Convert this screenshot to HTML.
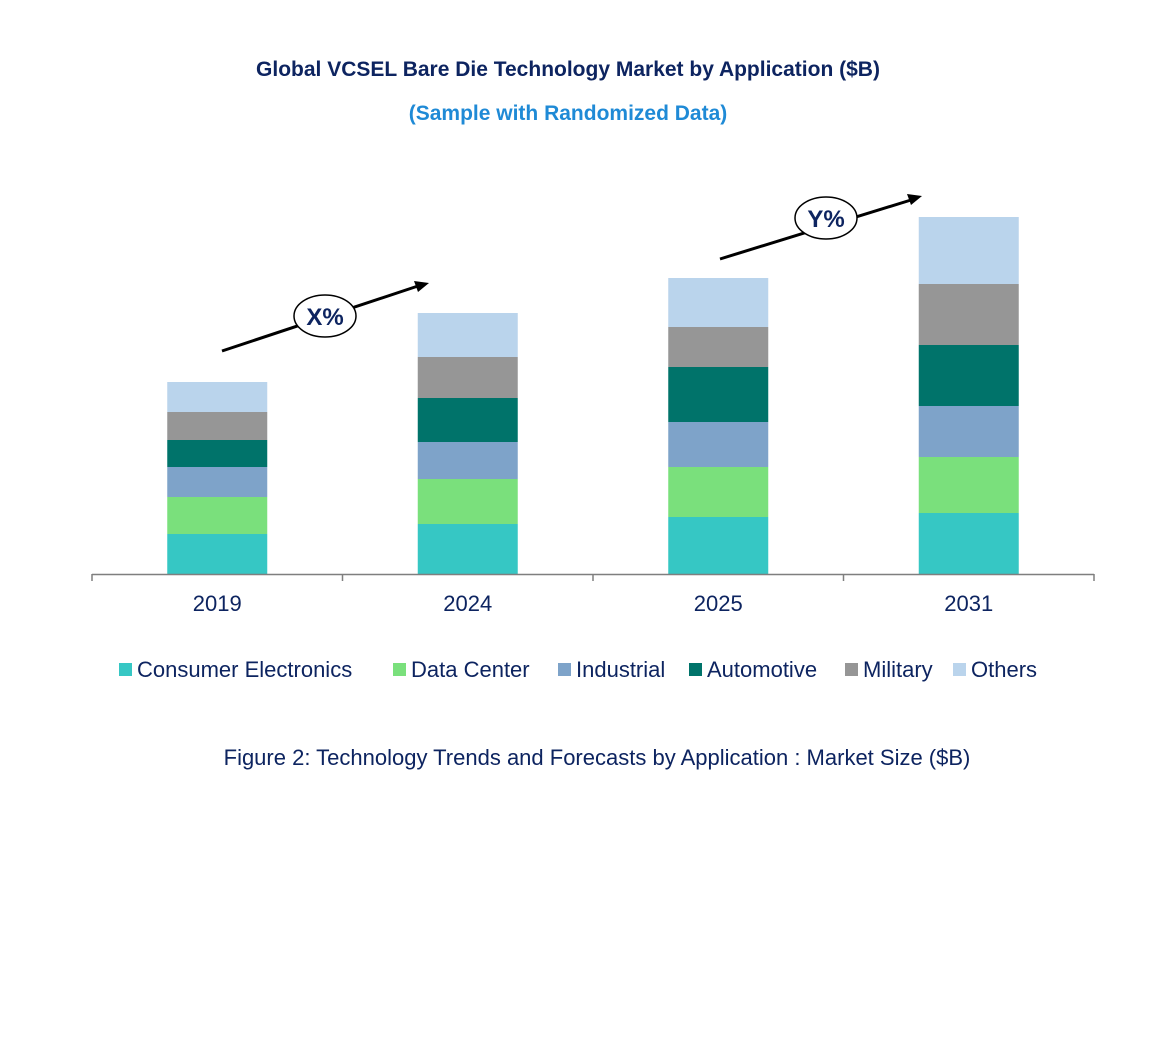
<!DOCTYPE html>
<html><head><meta charset="utf-8"><style>
body{margin:0;background:#fff;}
svg text{font-family:"Liberation Sans",Arial,sans-serif;}
</style></head><body>
<svg width="1158" height="1051" viewBox="0 0 1158 1051">
<text x="568" y="76" text-anchor="middle" font-size="21" font-weight="bold" fill="#0d2460">Global VCSEL Bare Die Technology Market by Application ($B)</text>
<text x="568" y="120" text-anchor="middle" font-size="21" font-weight="bold" fill="#1f8ad6">(Sample with Randomized Data)</text>
<g id="bars"></g>
<g id="axis"></g>
<g>
<line x1="222" y1="351" x2="418" y2="286" stroke="#000" stroke-width="3"/>
<polygon points="429,283 414,281 418,292" fill="#000"/>
<ellipse cx="325" cy="316" rx="31" ry="21" fill="#fff" stroke="#000" stroke-width="1.5"/>
<text x="325" y="325" text-anchor="middle" font-size="24" font-weight="bold" fill="#0d2460">X%</text>
</g>
<g>
<line x1="720" y1="259" x2="911" y2="200" stroke="#000" stroke-width="3"/>
<polygon points="922,196 907,194 911,205" fill="#000"/>
<ellipse cx="826" cy="218" rx="31" ry="21" fill="#fff" stroke="#000" stroke-width="1.5"/>
<text x="826" y="227" text-anchor="middle" font-size="24" font-weight="bold" fill="#0d2460">Y%</text>
</g>
<g id="legend"></g>
<text x="597" y="765" text-anchor="middle" font-size="22" fill="#0d2460">Figure 2: Technology Trends and Forecasts by Application : Market Size ($B)</text>
</svg>
<script>
const categories = ["2019","2024","2025","2031"];
const seriesNames = ["Consumer Electronics","Data Center","Industrial","Automotive","Military","Others"];
const consumerElectronics = [4.0,5.0,5.7,6.1];
const dataCenter = [3.7,4.5,5.0,5.6];
const industrial = [3.0,3.7,4.5,5.1];
const automotive = [2.7,4.4,5.5,6.1];
const military = [2.8,4.1,4.0,6.1];
const others = [3.0,4.4,4.9,6.7];
const series = [consumerElectronics,dataCenter,industrial,automotive,military,others];
const colors = ["#36c7c4","#7ae07c","#7ea3c9","#00736a","#969696","#bad4ec"];
const NS="http://www.w3.org/2000/svg";
const baseY=574, pxPerUnit=10, x0=92, x1=1094, barW=100;
const step=(x1-x0)/categories.length;
function xCenter(i){return x0+step*(i+0.5);}
function yScale(v){return baseY-v*pxPerUnit;}
const bars=document.getElementById("bars");
categories.forEach((c,i)=>{
  let cum=0;
  series.forEach((s,k)=>{
    const r=document.createElementNS(NS,"rect");
    const top=yScale(cum+s[i]), bot=yScale(cum);
    r.setAttribute("x",xCenter(i)-barW/2);
    r.setAttribute("y",top);
    r.setAttribute("width",barW);
    r.setAttribute("height",bot-top);
    r.setAttribute("fill",colors[k]);
    
    
    bars.appendChild(r);
    cum+=s[i];
  });
});
const axis=document.getElementById("axis");
const al=document.createElementNS(NS,"line");
al.setAttribute("x1",x0);al.setAttribute("x2",x1);al.setAttribute("y1",baseY+0.5);al.setAttribute("y2",baseY+0.5);
al.setAttribute("stroke","#7f7f7f");al.setAttribute("stroke-width","1.5");


axis.appendChild(al);
for(let i=0;i<=categories.length;i++){
  const t=document.createElementNS(NS,"line");
  const x=x0+step*i;
  t.setAttribute("x1",x);t.setAttribute("x2",x);t.setAttribute("y1",baseY);t.setAttribute("y2",baseY+7);
  t.setAttribute("stroke","#7f7f7f");t.setAttribute("stroke-width","1.5");
  
  
  axis.appendChild(t);
}
categories.forEach((c,i)=>{
  const t=document.createElementNS(NS,"text");
  t.setAttribute("x",xCenter(i));t.setAttribute("y",611);
  t.setAttribute("text-anchor","middle");t.setAttribute("font-size","22");t.setAttribute("fill","#0d2460");
  t.textContent=c;
  
  
  axis.appendChild(t);
});
const legend=document.getElementById("legend");
const lx=[119,393,558,689,845,953];
seriesNames.forEach((n,k)=>{
  const g=document.createElementNS(NS,"g");
  
  
  const r=document.createElementNS(NS,"rect");
  r.setAttribute("x",lx[k]);r.setAttribute("y",663);r.setAttribute("width",13);r.setAttribute("height",13);
  r.setAttribute("fill",colors[k]);
  g.appendChild(r);
  const t=document.createElementNS(NS,"text");
  t.setAttribute("x",lx[k]+18);t.setAttribute("y",677);t.setAttribute("font-size","22");t.setAttribute("fill","#0d2460");
  t.textContent=n;
  g.appendChild(t);
  legend.appendChild(g);
});
</script>
</body></html>
